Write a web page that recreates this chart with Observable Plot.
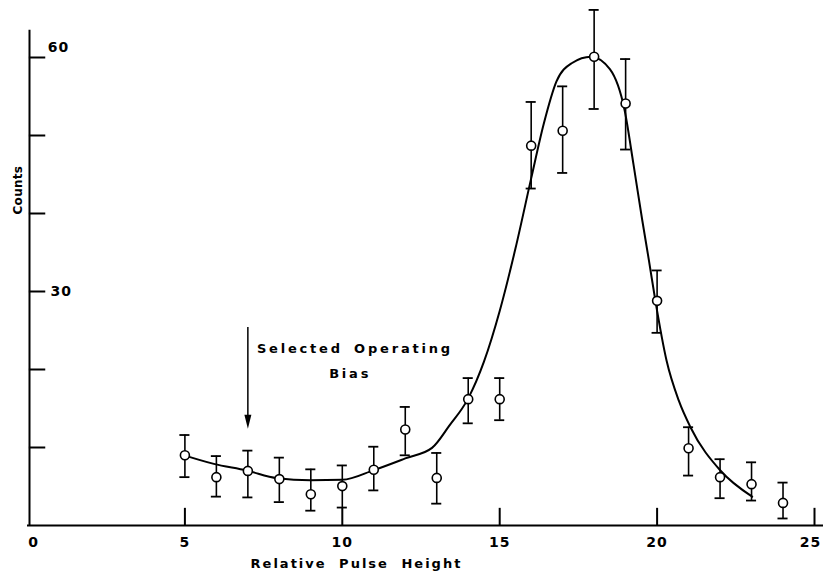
<!DOCTYPE html>
<html>
<head>
<meta charset="utf-8">
<script src="https://cdn.jsdelivr.net/npm/d3@7"></script>
<script src="https://cdn.jsdelivr.net/npm/@observablehq/plot@0.6"></script>
<style>
  html, body { margin: 0; padding: 0; background: #fff; }
</style>
</head>
<body>
<div id="chart"></div>
<script>
// Measured points
const pulse   = [5, 6, 7, 8, 9, 10, 11, 12, 13, 14, 15, 16, 17, 18, 19, 20, 21, 22, 23, 24];
const counts  = [9.0, 6.2, 7.0, 5.95, 4.0, 5.05, 7.15, 12.3, 6.1, 16.2, 16.2, 48.7, 50.6, 60.1, 54.1, 28.8, 9.9, 6.2, 5.3, 2.9];
const errLow  = [6.2, 3.7, 3.6, 3.0, 1.9, 2.3, 4.5, 9.0, 2.8, 13.1, 13.5, 43.2, 45.2, 53.4, 48.2, 24.7, 6.4, 3.5, 3.2, 0.9];
const errHigh = [11.6, 8.9, 9.6, 8.7, 7.2, 7.7, 10.1, 15.2, 9.3, 18.9, 18.9, 54.3, 56.3, 66.1, 59.8, 32.7, 12.6, 8.5, 8.1, 5.5];

// Fitted curve
const curveX = [4.93, 5.92, 6.96, 7.93, 8.99, 10.0, 11.0, 12.0, 12.85, 13.4, 14.0, 14.5, 15.0, 15.5, 16.0, 16.4, 16.8, 17.3, 17.9, 18.5, 18.97, 19.25, 19.53, 19.74, 19.95, 20.3, 20.69, 21.06, 22.01, 23.02];
const curveY = [9.06, 7.9, 7.05, 6.07, 5.8, 5.85, 7.1, 8.6, 9.95, 12.8, 16.3, 21.0, 27.5, 35.5, 44.5, 51.5, 56.9, 59.3, 60.1, 58.5, 53.2, 46.3, 39.1, 34.0, 28.7, 21.15, 16.0, 12.6, 7.05, 3.7];

// Axes
const xTicks = [5, 10, 15, 20, 25];
const xTickLabels = ["5", "10", "15", "20"];
const yTicks = [10, 20, 30, 40, 50, 60];

const points = pulse.map((x, i) => ({x, y: counts[i], lo: errLow[i], hi: errHigh[i]}));
const curve = curveX.map((x, i) => ({x, y: curveY[i]}));

const arrowHead = {
  draw(ctx) {
    ctx.moveTo(-3.5, -14);
    ctx.lineTo(3.5, -14);
    ctx.lineTo(0, 0);
    ctx.closePath();
  }
};

const font = "DejaVu Sans";
const cap = 0.16;
const txt = {fill: "#000", fontWeight: "bold"};

const chart = Plot.plot({
  width: 823,
  height: 573,
  marginLeft: 27,
  marginRight: 9,
  marginTop: 57,
  marginBottom: 48,
  x: {domain: [0, 25], axis: null},
  y: {domain: [0, 60], axis: null},
  style: {background: "#fff", fontFamily: font},
  marks: [
    // axes lines
    Plot.ruleX([0], {x: 0, y1: 0, y2: 63.5, dx: 2, stroke: "#000", strokeWidth: 2}),
    Plot.ruleY([0], {y: 0, x1: 0, x2: 25.3, stroke: "#000", strokeWidth: 2}),
    // ticks
    Plot.ruleY(yTicks, {y: d => d, x1: 0.06, x2: 0.58, stroke: "#000", strokeWidth: 2}),
    Plot.ruleX(xTicks, {x: d => d, y1: 0, y2: 2.2, stroke: "#000", strokeWidth: 2}),
    // tick labels
    Plot.text(xTickLabels, {x: (d, i) => xTicks[i], y: 0, text: d => d, dy: 17, fontSize: 14, ...txt}),
    Plot.text(["0"], {x: 0, y: 0, text: d => d, dy: 17, dx: 6, fontSize: 14, ...txt}),
    Plot.text(["25"], {x: 25, y: 0, text: d => d, dy: 17, dx: -4, fontSize: 14, ...txt}),
    Plot.text(["60"], {x: 0.64, y: 60, text: d => d, dy: -10, textAnchor: "start", fontSize: 14, ...txt}),
    Plot.text(["30"], {x: 0.73, y: 30, text: d => d, dy: 0, textAnchor: "start", fontSize: 14, ...txt}),
    // axis titles
    Plot.text(["Relative Pulse Height"], {x: 10.45, y: 0, text: d => d, dy: 38, fontSize: 13, ...txt}),
    Plot.text(["Counts"], {x: -0.3, y: 43, text: d => d, rotate: -90, fontSize: 12, ...txt}),
    // annotation
    Plot.ruleX([7], {x: d => d, y1: 25.4, y2: 13.5, stroke: "#000", strokeWidth: 1.5}),
    Plot.dot([7], {x: d => d, y: 12.4, symbol: arrowHead, fill: "#000", stroke: "none", r: 5}),
    Plot.text(["Selected Operating"], {x: 10.4, y: 22.7, text: d => d, fontSize: 13, ...txt}),
    Plot.text(["Bias"], {x: 10.25, y: 19.4, text: d => d, fontSize: 13, ...txt}),
    // fitted curve
    Plot.line(curve, {x: "x", y: "y", curve: "monotone-x", stroke: "#000", strokeWidth: 2}),
    // error bars
    Plot.ruleX(points, {x: "x", y1: "lo", y2: "hi", stroke: "#000", strokeWidth: 1.6}),
    Plot.ruleY(points, {y: "lo", x1: d => d.x - cap, x2: d => d.x + cap, stroke: "#000", strokeWidth: 1.8}),
    Plot.ruleY(points, {y: "hi", x1: d => d.x - cap, x2: d => d.x + cap, stroke: "#000", strokeWidth: 1.8}),
    // points
    Plot.dot(points, {x: "x", y: "y", r: 4.5, fill: "#fff", stroke: "#000", strokeWidth: 1.6})
  ]
});

// letter spacing to mimic the lettering-guide style
d3.select(chart).selectAll("text").each(function () {
  const t = this.textContent;
  const s = this.style;
  if (t === "Relative Pulse Height") { s.letterSpacing = "2px"; s.wordSpacing = "6px"; }
  else if (t === "Selected Operating" || t === "Bias") { s.letterSpacing = "2.8px"; s.wordSpacing = "4px"; }
  else if (t === "Counts") { s.letterSpacing = "0.3px"; }
  else { s.letterSpacing = "1px"; }
});

document.getElementById("chart").appendChild(chart);
</script>
</body>
</html>
